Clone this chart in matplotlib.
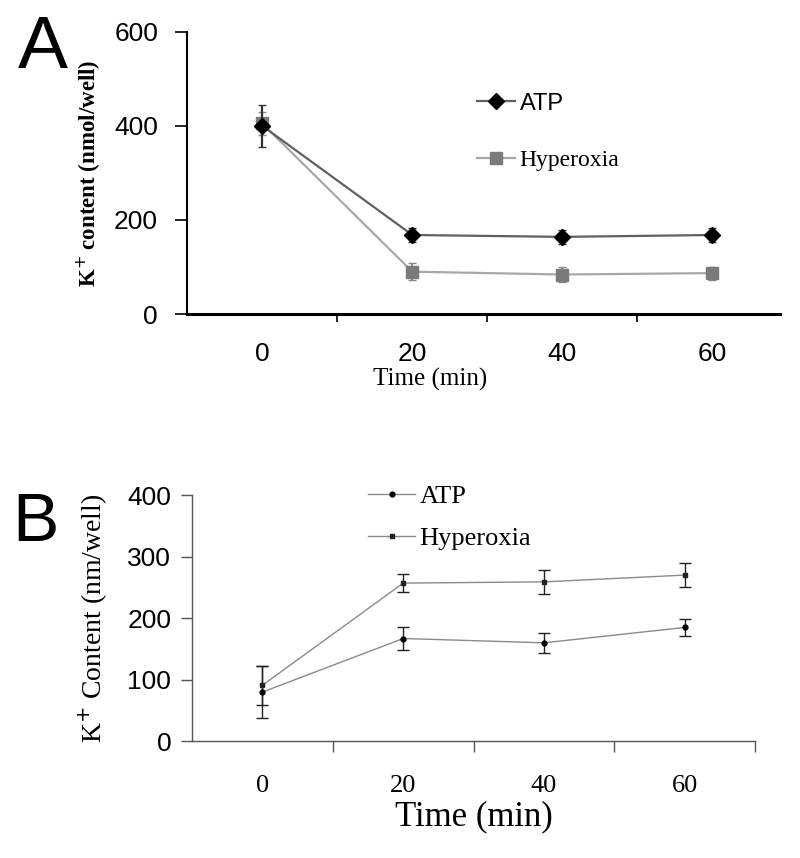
import numpy as np
import matplotlib.pyplot as plt
from matplotlib.lines import Line2D

# ---- data ----
times = ["0", "20", "40", "60"]

a_atp = [400, 168, 164, 168]
a_atp_err = [45, 15, 15, 15]
a_hyp = [405, 90, 84, 87]
a_hyp_err = [25, 18, 16, 14]

b_atp = [80, 167, 160, 185]
b_atp_err = [42, 19, 16, 14]
b_hyp = [91, 257, 259, 270]
b_hyp_err = [32, 14, 19, 19]

sans = "Liberation Sans"
serif = "Liberation Serif"

fig = plt.figure(figsize=(8, 8.58), dpi=100)
x = np.arange(len(times))

# ----- panel A -----
axA = fig.add_axes([0.234, 0.634, 0.741, 0.329])
axA.errorbar(x, a_hyp, yerr=a_hyp_err, color="#a8a8a8", lw=1.6, marker="s", ms=9,
             mfc="#7a7a7a", mec="#7a7a7a", ecolor="#8a8a8a", capsize=3, zorder=2)
axA.errorbar(x, a_atp, yerr=a_atp_err, color="#606060", lw=1.6, marker="D", ms=8,
             mfc="black", mec="black", ecolor="#333333", capsize=3, zorder=3)
axA.set_xlim(-0.5, 3.45)
axA.set_ylim(0, 600)
axA.set_yticks([0, 200, 400, 600])
axA.set_xticks(x)
axA.set_xticklabels(times, fontfamily=sans, fontsize=19)
axA.set_xticks([0.5, 1.5, 2.5], minor=True)
axA.tick_params(axis="x", which="major", length=0, pad=20)
axA.tick_params(axis="x", which="minor", length=6, width=1.2, direction="out")
axA.tick_params(axis="y", length=9, width=1.2, labelsize=19, pad=12)
for t in axA.get_yticklabels():
    t.set_fontfamily(sans)
for s in ["top", "right"]:
    axA.spines[s].set_visible(False)
axA.spines["bottom"].set_linewidth(2.2)
axA.spines["left"].set_linewidth(1.5)
axA.set_xlabel("Time (min)", fontfamily=serif, fontsize=18, labelpad=0)
axA.xaxis.set_label_coords(0.41, -0.19)
axA.set_ylabel("K$^{+}$ content (nmol/well)", fontfamily=serif, fontweight="bold",
               fontsize=16.5, labelpad=8)
hA = [Line2D([], [], color="#606060", lw=1.6, marker="D", ms=8, mfc="black", mec="black"),
      Line2D([], [], color="#a8a8a8", lw=1.6, marker="s", ms=8, mfc="#7a7a7a", mec="#7a7a7a")]
legA = axA.legend(hA, ["ATP", "Hyperoxia"], loc="upper left", bbox_to_anchor=(0.453, 0.86),
                  frameon=False, handlelength=1.6, labelspacing=1.5, handletextpad=0.2,
                  fontsize=17)
legA.get_texts()[0].set_fontfamily(sans)
legA.get_texts()[1].set_fontfamily(serif)
fig.text(0.022, 0.943, "A", fontfamily=sans, fontsize=54, va="center")

# ----- panel B -----
axB = fig.add_axes([0.24, 0.136, 0.704, 0.287])
axB.errorbar(x, b_atp, yerr=b_atp_err, color="#8a8a8a", lw=1.0, marker="o", ms=3.5,
             mfc="black", mec="black", ecolor="#222222", elinewidth=1.0, capsize=4)
axB.errorbar(x, b_hyp, yerr=b_hyp_err, color="#8a8a8a", lw=1.0, marker="s", ms=3.5,
             mfc="#222222", mec="#222222", ecolor="#222222", elinewidth=1.0, capsize=4)
axB.set_xlim(-0.5, 3.5)
axB.set_ylim(0, 400)
axB.set_yticks([0, 100, 200, 300, 400])
axB.set_xticks(x)
axB.set_xticklabels(times, fontfamily=serif, fontsize=19)
axB.set_xticks([0.5, 1.5, 2.5, 3.5], minor=True)
axB.tick_params(axis="x", which="major", length=0, pad=24)
axB.tick_params(axis="x", which="minor", length=8, width=1.0, direction="out",
                color="#555555")
axB.tick_params(axis="y", length=8, width=1.0, labelsize=19, color="#555555", pad=7)
for t in axB.get_yticklabels():
    t.set_fontfamily(sans)
for s in ["top", "right"]:
    axB.spines[s].set_visible(False)
for s in ["bottom", "left"]:
    axB.spines[s].set_color("#555555")
    axB.spines[s].set_linewidth(1.0)
axB.set_xlabel("Time (min)", fontfamily=serif, fontsize=25, labelpad=0)
axB.xaxis.set_label_coords(0.5, -0.24)
axB.set_ylabel("K$^{+}$ Content (nm/well)", fontfamily=serif, fontsize=20, labelpad=12)
hB = [Line2D([], [], color="#8a8a8a", lw=1.0, marker="o", ms=3.5, mfc="black", mec="black"),
      Line2D([], [], color="#8a8a8a", lw=1.0, marker="s", ms=3.5, mfc="#222222", mec="#222222")]
legB = axB.legend(hB, ["ATP", "Hyperoxia"], loc="upper left", bbox_to_anchor=(0.27, 1.14),
                  frameon=False, handlelength=1.8, labelspacing=0.72, handletextpad=0.15,
                  prop={"family": serif, "size": 19})
fig.text(0.015, 0.39, "B", fontfamily=sans, fontsize=50, va="center")

plt.savefig("out.png", dpi=100)
plt.close()
